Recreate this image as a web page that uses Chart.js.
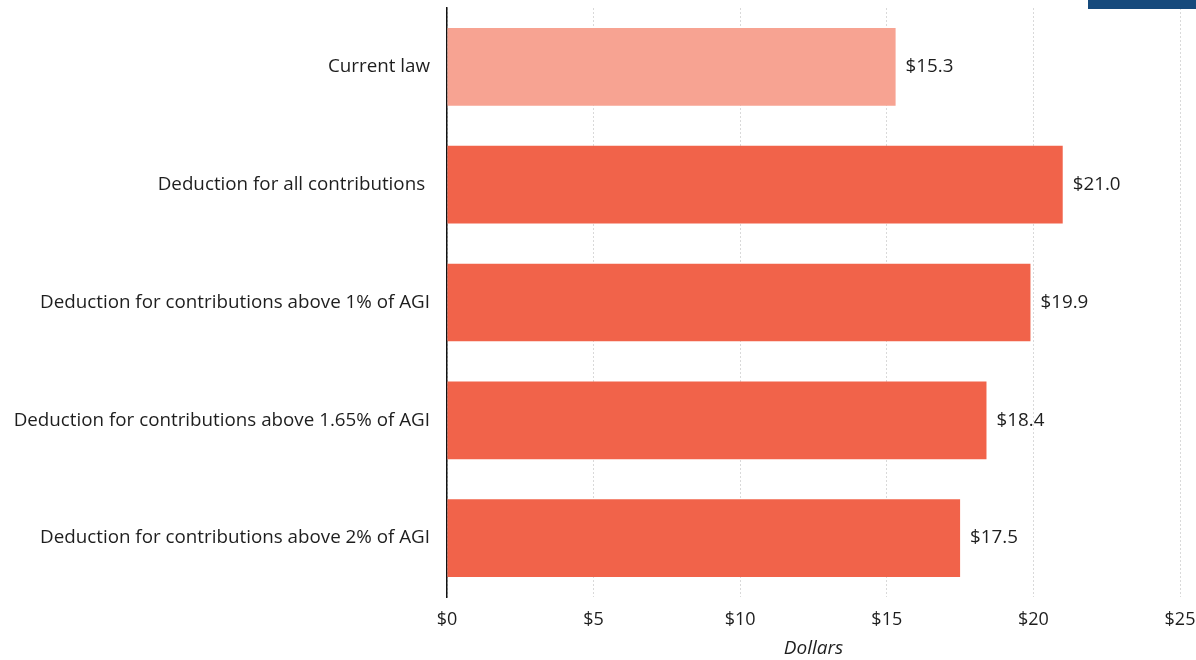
<!DOCTYPE html>
<html>
<head>
<meta charset="utf-8">
<script src="https://cdn.jsdelivr.net/npm/chart.js@4.4.1/dist/chart.umd.min.js"></script>
<style>
  html, body { margin: 0; padding: 0; background: #fff; }
  #wrap { position: relative; width: 1196px; height: 660px; }
  #corner { position: absolute; left: 1088px; top: 0; width: 108px; height: 9px; background: #164a7c; }
</style>
</head>
<body>
<div id="wrap">
  <canvas id="c" width="1196" height="660"></canvas>
  <div id="corner"></div>
</div>
<script>
const categories = [
  "Current law",
  "Deduction for all contributions ",
  "Deduction for contributions above 1% of AGI",
  "Deduction for contributions above 1.65% of AGI",
  "Deduction for contributions above 2% of AGI"
];
const values = [15.3, 21.0, 19.9, 18.4, 17.5];
const barColors = ["#f7a392", "#f1634a", "#f1634a", "#f1634a", "#f1634a"];
const xTicks = [0, 5, 10, 15, 20, 25];

const FONT = "'Open Sans', Lato, sans-serif";

// Writes "$xx.x" just past the end of each bar
const valueLabels = {
  id: "valueLabels",
  afterDatasetsDraw(chart) {
    const ctx = chart.ctx;
    const meta = chart.getDatasetMeta(0);
    ctx.save();
    ctx.font = "18.8px " + FONT;
    ctx.fillStyle = "#1e1e1e";
    ctx.textAlign = "left";
    ctx.textBaseline = "middle";
    meta.data.forEach((bar, i) => {
      ctx.fillText("$" + values[i].toFixed(1), bar.x + 10, bar.y);
    });
    ctx.restore();
  }
};

new Chart(document.getElementById("c"), {
  type: "bar",
  data: {
    labels: categories,
    datasets: [{
      data: values,
      backgroundColor: barColors,
      borderWidth: 0,
      categoryPercentage: 1,
      barPercentage: 0.66
    }]
  },
  options: {
    indexAxis: "y",
    responsive: false,
    animation: false,
    devicePixelRatio: 1,
    layout: { padding: { top: 8, right: 16, left: 0, bottom: 0 } },
    plugins: { legend: { display: false }, tooltip: { enabled: false } },
    scales: {
      x: {
        min: 0,
        max: 25,
        afterBuildTicks(scale) { scale.ticks = xTicks.map(v => ({ value: v })); },
        afterFit(scale) {
          scale.height = 63;
          scale.paddingLeft = 0;
          scale.paddingRight = 0;
        },
        grid: { color: "#d9d9d9", lineWidth: 1, drawTicks: false },
        border: { display: false, dash: [2, 2] },
        ticks: {
          padding: 12,
          color: "#1e1e1e",
          font: { family: FONT, size: 18 },
          callback: v => "$" + v
        },
        title: {
          display: true,
          text: "Dollars",
          color: "#1e1e1e",
          padding: { top: 2, bottom: 0 },
          font: { family: FONT, size: 19, style: "italic" }
        }
      },
      y: {
        afterFit(scale) {
          scale.width = 447;
          scale.paddingTop = 0;
          scale.paddingBottom = 0;
        },
        grid: { display: false, drawTicks: false },
        border: { display: true, color: "#111", width: 1.5 },
        ticks: {
          padding: 17,
          color: "#1e1e1e",
          font: { family: FONT, size: 18.8 }
        }
      }
    }
  },
  plugins: [valueLabels]
});
</script>
</body>
</html>
